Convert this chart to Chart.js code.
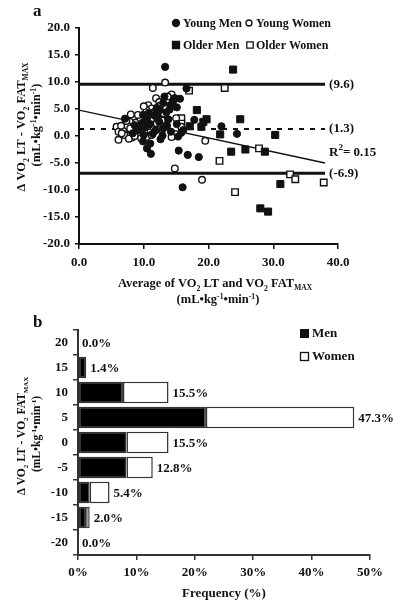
<!DOCTYPE html>
<html>
<head>
<meta charset="utf-8">
<script src="https://cdn.jsdelivr.net/npm/chart.js@4.4.0/dist/chart.umd.min.js"></script>
<style>
  body { margin: 0; background: #fff; }
  #wrap { position: relative; width: 400px; height: 606px; }
  canvas { position: absolute; left: 0; display: block; }
  #chartA { top: 0; }
  #chartB { top: 306px; }
</style>
</head>
<body>
<div id="wrap">
  <canvas id="chartA" width="400" height="306"></canvas>
  <canvas id="chartB" width="400" height="300"></canvas>
</div>
<script>
// ---- panel a data (x = average, y = difference) ----
const youngMen = [
  [13.3, 12.8], [16.6, 8.8], [13.2, 7.3], [14.8, 7.0], [15.6, 6.9], [14.1, 5.7], [15.1, 5.3],
  [12.5, 4.8], [13.5, 4.4], [11.7, 3.9], [9.9, 3.9], [7.1, 3.2], [10.5, 3.0], [12.2, 3.4],
  [9.7, 2.4], [11.0, 2.2], [13.0, 1.4], [15.1, 2.2], [17.8, 3.0], [22.0, 1.8], [24.4, 0.4],
  [15.8, 0.6], [12.9, 0.1], [9.9, -1.0], [11.0, -1.4], [10.5, -2.3], [11.1, -3.3], [15.3, -0.1],
  [15.4, -2.7], [16.8, -3.5], [18.5, -3.9], [16.0, -9.5], [10.2, 1.6], [11.8, 1.0], [12.4, 2.6],
  [13.8, 3.1], [14.5, 6.3], [12.0, 5.2], [10.8, 4.3], [9.2, 1.2], [8.6, 2.0], [13.6, 1.9],
  [14.2, 0.8], [11.4, 0.4], [10.0, 0.2], [12.6, -0.6], [14.0, 4.9], [8.3, 0.5], [16.1, 1.1],
  [13.0, 6.1]
];
const youngWomen = [
  [13.3, 9.9], [11.4, 8.9], [14.3, 7.7], [14.6, 6.9], [11.9, 7.0], [12.4, 6.3], [10.7, 5.7],
  [11.2, 5.1], [10.4, 4.8], [13.3, 3.3], [8.4, 3.3], [7.9, 2.6], [5.8, 1.7], [6.1, 0.8],
  [6.1, -0.7], [15.8, 1.7], [14.3, -0.2], [19.5, -0.9], [19.0, -8.1], [14.8, -6.0], [6.8, 1.2],
  [7.0, 0.2], [7.5, 1.9], [8.0, 1.0], [8.2, -0.3], [8.8, 2.5], [9.0, 1.6], [9.3, 0.7],
  [9.5, 3.2], [9.8, 2.0], [10.1, 0.9], [10.3, 2.7], [10.6, 1.8], [10.9, 3.6], [11.1, 2.8],
  [11.5, 1.7], [11.7, 4.5], [12.0, 2.3], [12.3, 3.9], [12.7, 1.8], [7.3, 2.8], [6.5, 1.9],
  [7.7, -0.5], [8.6, 0.0], [9.6, -0.4], [10.4, -0.2], [11.2, 0.2], [12.0, 1.2], [12.8, 2.9],
  [13.1, 4.2], [9.1, 3.9], [8.0, 4.0], [10.0, 5.5], [13.7, 7.3], [15.0, 3.3], [6.6, 0.5],
  [7.9, 1.4], [9.4, 1.1], [11.3, 4.2], [12.5, 5.6]
];
const olderMen = [
  [23.8, 12.3], [18.2, 4.8], [24.9, 3.1], [19.7, 3.1], [19.2, 2.6], [17.1, 1.8], [18.9, 1.7],
  [21.8, 0.3], [30.3, 0.2], [23.5, -2.9], [25.7, -2.5], [28.7, -2.9], [31.1, -8.9],
  [28.0, -13.4], [29.2, -14.0]
];
const olderWomen = [
  [22.5, 8.9], [17.0, 8.4], [15.8, 3.3], [15.8, 2.3], [27.8, -2.3], [21.7, -4.6],
  [32.6, -7.1], [33.4, -8.0], [37.8, -8.6], [24.1, -10.4]
];
const upperLoA = 9.6;
const meanBias = 1.3;
const lowerLoA = -6.9;
const lineEndX = 38;
const regression = [[0, 4.8], [38, -5.0]];
const rSquared = 0.15;
const yTicksA = [-20, -15, -10, -5, 0, 5, 10, 15, 20];
const xTicksA = [0, 10, 20, 30, 40];

// ---- panel b data ----
const binLabels = ['20', '15', '10', '5', '0', '-5', '-10', '-15', '-20'];
const menPct = [0, 1.4, 7.7, 21.9, 8.3, 8.3, 2.0, 1.4, 0];
const totalPct = [0.0, 1.4, 15.5, 47.3, 15.5, 12.8, 5.4, 2.0, 0.0];
const womenPct = totalPct.map((t, i) => +(t - menPct[i]).toFixed(1));

const FAMILY = "'Times New Roman', 'Liberation Serif', serif";
const INK = '#111';
const fontStr = s => 'bold ' + s + 'px ' + FAMILY;

function toPts(arr) { return arr.map(p => ({ x: p[0], y: p[1] })); }

// draws text with sub/superscript pieces: [text, scale, shift]
function drawRich(ctx, parts, x, y, size, rotate) {
  ctx.save();
  ctx.translate(x, y);
  if (rotate) ctx.rotate(-Math.PI / 2);
  ctx.textBaseline = 'alphabetic';
  ctx.textAlign = 'left';
  ctx.fillStyle = INK;
  let total = 0;
  parts.forEach(p => { ctx.font = fontStr(size * (p[1] || 1)); total += ctx.measureText(p[0]).width; });
  let cx = -total / 2;
  parts.forEach(p => {
    ctx.font = fontStr(size * (p[1] || 1));
    ctx.fillText(p[0], cx, size * 0.35 + (p[2] || 0) * size);
    cx += ctx.measureText(p[0]).width;
  });
  ctx.restore();
}

const yTitle1 = [['Δ VO'], ['2', 0.62, 0.25], [' LT - VO'], ['2', 0.62, 0.25], [' FAT'], ['MAX', 0.6, 0.22]];
const unitParts = [['(mL•kg'], ['-1', 0.62, -0.35], ['•min'], ['-1', 0.62, -0.35], [')']];
const xTitleA = [['Average of VO'], ['2', 0.62, 0.25], [' LT and VO'], ['2', 0.62, 0.25], [' FAT'], ['MAX', 0.6, 0.22]];

const tickFont = { family: FAMILY, size: 13, weight: 'bold' };

function dot(ctx, x, y, style, filled, r) {
  ctx.save();
  ctx.fillStyle = filled ? INK : '#fff';
  ctx.strokeStyle = INK;
  ctx.lineWidth = 1.3;
  ctx.beginPath();
  if (style === 'circle') ctx.arc(x, y, r, 0, Math.PI * 2);
  else ctx.rect(x - r, y - r, 2 * r, 2 * r);
  ctx.fill();
  ctx.stroke();
  ctx.restore();
}

const textA = {
  id: 'textA',
  afterDraw(chart) {
    const ctx = chart.ctx;
    const xs = chart.scales.x, ys = chart.scales.y;
    const lx = xs.getPixelForValue(lineEndX) + 4;
    ctx.save();
    ctx.fillStyle = INK;
    ctx.font = fontStr(13);
    ctx.textBaseline = 'middle';
    ctx.textAlign = 'left';
    ctx.fillText('(' + upperLoA.toFixed(1) + ')', lx, ys.getPixelForValue(upperLoA));
    ctx.fillText('(' + meanBias.toFixed(1) + ')', lx, ys.getPixelForValue(meanBias));
    ctx.fillText('(' + lowerLoA.toFixed(1) + ')', lx, ys.getPixelForValue(lowerLoA));
    // R squared
    const ry = ys.getPixelForValue(-3.0);
    ctx.fillText('R', lx, ry);
    let w = ctx.measureText('R').width;
    ctx.font = fontStr(9);
    ctx.fillText('2', lx + w, ry - 5);
    w += ctx.measureText('2').width;
    ctx.font = fontStr(13);
    ctx.fillText('= ' + rSquared.toFixed(2), lx + w, ry);
    // legend
    ctx.font = fontStr(12);
    dot(ctx, 176, 23, 'circle', true, 3.5);
    ctx.fillText('Young Men', 183, 24);
    dot(ctx, 249, 23, 'circle', false, 3);
    ctx.fillText('Young Women', 256, 24);
    dot(ctx, 176, 45, 'rect', true, 3.5);
    ctx.fillText('Older Men', 183, 46);
    dot(ctx, 250, 45, 'rect', false, 3.2);
    ctx.fillText('Older Women', 256, 46);
    // panel letter
    ctx.font = fontStr(17);
    ctx.fillText('a', 33, 12);
    ctx.restore();
    // axis titles
    drawRich(ctx, yTitle1, 21, 127, 12.5, true);
    drawRich(ctx, unitParts, 36, 125, 12.5, true);
    drawRich(ctx, xTitleA, 215, 283, 12.5, false);
    drawRich(ctx, unitParts, 218, 299, 12.5, false);
  }
};

function hLine(y, x0, x1) { return [{ x: x0, y: y }, { x: x1, y: y }]; }

new Chart(document.getElementById('chartA'), {
  type: 'scatter',
  data: {
    datasets: [
      { label: 'Young Men', data: toPts(youngMen), pointStyle: 'circle', pointRadius: 3.6,
        backgroundColor: INK, borderColor: INK, borderWidth: 1 },
      { label: 'Young Women', data: toPts(youngWomen), pointStyle: 'circle', pointRadius: 3.3,
        backgroundColor: '#fff', borderColor: INK, borderWidth: 1.4 },
      { label: 'Older Men', data: toPts(olderMen), pointStyle: 'rect', pointRadius: 5,
        backgroundColor: INK, borderColor: INK, borderWidth: 1 },
      { label: 'Older Women', data: toPts(olderWomen), pointStyle: 'rect', pointRadius: 4.6,
        backgroundColor: '#fff', borderColor: INK, borderWidth: 1.4 },
      { data: hLine(upperLoA, 0, lineEndX), showLine: true, pointRadius: 0, borderColor: INK, borderWidth: 3 },
      { data: hLine(meanBias, 0, lineEndX), showLine: true, pointRadius: 0, borderColor: INK, borderWidth: 2, borderDash: [5, 6] },
      { data: hLine(lowerLoA, 0, lineEndX), showLine: true, pointRadius: 0, borderColor: INK, borderWidth: 3 },
      { data: toPts(regression), showLine: true, pointRadius: 0, borderColor: INK, borderWidth: 1.3 }
    ]
  },
  options: {
    responsive: false,
    animation: false,
    layout: { padding: { left: 0, right: 62, top: 28, bottom: 0 } },
    plugins: { legend: { display: false }, tooltip: { enabled: false } },
    scales: {
      x: {
        type: 'linear', min: 0, max: 40,
        afterBuildTicks: s => { s.ticks = xTicksA.map(v => ({ value: v })); },
        afterFit: s => { s.height = 62; },
        ticks: { font: tickFont, color: INK, padding: 6, maxRotation: 0, callback: v => v.toFixed(1) },
        grid: { drawOnChartArea: false, drawTicks: true, tickLength: 5, color: INK, lineWidth: 1.5 },
        border: { color: INK, width: 2 }
      },
      y: {
        min: -20, max: 20,
        afterBuildTicks: s => { s.ticks = yTicksA.map(v => ({ value: v })); },
        afterFit: s => { s.width = 79; },
        ticks: { font: tickFont, color: INK, padding: 5, callback: v => v.toFixed(1) },
        grid: { drawOnChartArea: false, drawTicks: true, tickLength: 4, color: INK, lineWidth: 1.5 },
        border: { color: INK, width: 2 }
      }
    }
  },
  plugins: [textA]
});

const textB = {
  id: 'textB',
  afterDraw(chart) {
    const ctx = chart.ctx;
    const xs = chart.scales.x, ys = chart.scales.y;
    ctx.save();
    ctx.fillStyle = INK;
    ctx.font = fontStr(13);
    ctx.textBaseline = 'middle';
    ctx.textAlign = 'left';
    totalPct.forEach((t, i) => {
      ctx.fillText(t.toFixed(1) + '%', xs.getPixelForValue(t) + 4, ys.getPixelForValue(i) + 1);
    });
    // legend
    ctx.font = fontStr(13);
    ctx.fillStyle = INK;
    ctx.fillRect(300, 23, 9, 9);
    ctx.fillText('Men', 312, 28);
    ctx.strokeStyle = INK;
    ctx.lineWidth = 1.3;
    ctx.strokeRect(300.5, 46.5, 8, 8);
    ctx.fillText('Women', 312, 51);
    ctx.font = fontStr(17);
    ctx.fillText('b', 33, 17);
    ctx.textAlign = 'center';
    ctx.font = fontStr(13);
    ctx.fillText('Frequency (%)', (chart.chartArea.left + chart.chartArea.right) / 2, 288);
    ctx.restore();
    drawRich(ctx, yTitle1, 21, 130, 11.5, true);
    drawRich(ctx, unitParts, 36, 128, 11.5, true);
  }
};

new Chart(document.getElementById('chartB'), {
  type: 'bar',
  data: {
    labels: binLabels,
    datasets: [
      { label: 'Men', data: menPct, backgroundColor: '#000', borderColor: '#333', borderWidth: 1.5,
        borderSkipped: false, barPercentage: 0.86, categoryPercentage: 1 },
      { label: 'Women', data: womenPct, backgroundColor: '#fff', borderColor: '#333', borderWidth: 1.5,
        borderSkipped: false, barPercentage: 0.86, categoryPercentage: 1 }
    ]
  },
  options: {
    indexAxis: 'y',
    responsive: false,
    animation: false,
    layout: { padding: { left: 0, right: 30, top: 24, bottom: 0 } },
    plugins: { legend: { display: false }, tooltip: { enabled: false } },
    scales: {
      x: {
        stacked: true, min: 0, max: 50,
        ticks: { stepSize: 10, font: tickFont, color: INK, padding: 5, maxRotation: 0, callback: v => v + '%' },
        afterFit: s => { s.height = 51; },
        grid: { drawOnChartArea: false, drawTicks: true, tickLength: 5, color: '#333', lineWidth: 1.5 },
        border: { color: '#333', width: 2 }
      },
      y: {
        stacked: true,
        afterFit: s => { s.width = 78; },
        ticks: { font: tickFont, color: INK, padding: 5 },
        grid: { offset: true, drawOnChartArea: false, drawTicks: true, tickLength: 5, color: '#333', lineWidth: 1.5 },
        border: { color: '#333', width: 2 }
      }
    }
  },
  plugins: [textB]
});
</script>
</body>
</html>
